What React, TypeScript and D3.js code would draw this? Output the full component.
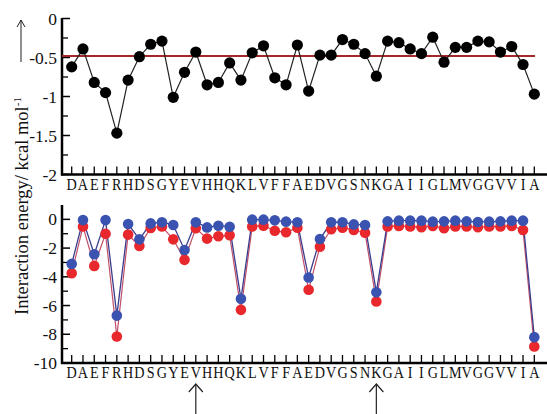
import React from "react";
import * as d3 from "d3";

const residues = "DAEFRHDSGYEVHHQKLVFFAEDVGSNKGAIIGLMVGGVVIA".split("");

const topValues = [
  -0.62, -0.39, -0.82, -0.95, -1.47, -0.79, -0.49, -0.33, -0.29, -1.01,
  -0.69, -0.43, -0.85, -0.82, -0.57, -0.79, -0.44, -0.35, -0.76, -0.85,
  -0.34, -0.93, -0.47, -0.47, -0.27, -0.33, -0.45, -0.74, -0.29, -0.31,
  -0.39, -0.45, -0.24, -0.56, -0.37, -0.37, -0.29, -0.30, -0.43, -0.36,
  -0.59, -0.97,
];

const blueValues = [
  -3.1, -0.05, -2.43, -0.05, -6.7, -0.32, -1.39, -0.28, -0.2, -0.39,
  -2.13, -0.2, -0.56, -0.44, -0.51, -5.53, -0.02, -0.02, -0.07, -0.16,
  -0.2, -4.05, -1.37, -0.2, -0.2, -0.35, -0.39, -5.07, -0.14, -0.09,
  -0.09, -0.09, -0.16, -0.14, -0.09, -0.14, -0.18, -0.16, -0.14, -0.09,
  -0.09, -8.2,
];

const redValues = [
  -3.75, -0.5, -3.24, -1.0, -8.15, -1.06, -1.85, -0.6, -0.5, -1.39,
  -2.82, -0.62, -1.34, -1.18, -1.11, -6.3, -0.5, -0.44, -0.79, -0.9,
  -0.58, -4.9, -1.9, -0.69, -0.58, -0.74, -0.93, -5.72, -0.5, -0.46,
  -0.5, -0.55, -0.46, -0.62, -0.5, -0.5, -0.55, -0.5, -0.5, -0.46,
  -0.74, -8.85,
];

const topTicks = [0, -0.5, -1, -1.5, -2];
const topMinor = [-0.25, -0.75, -1.25, -1.75];
const bottomTicks = [0, -2, -4, -6, -8, -10];
const bottomMinor = [-1, -3, -5, -7, -9];
const refLine = -0.48;
const arrowResidues = [12, 28];

const W = 547;
const H = 414;
const axisX = 62;
const axisEnd = 547;

const x = d3.scaleLinear().domain([1, 42]).range([71.7, 534.3]);
const yTop = d3.scaleLinear().domain([-2, 0]).range([174.5, 18.5]);
const yBot = d3.scaleLinear().domain([-10, 1]).range([363, 205]);

const serif = "'Liberation Serif', 'DejaVu Serif', serif";

function fmt(v: number) {
  return v === 0 ? "0" : String(v);
}

function Panel({
  y,
  ticks,
  minor,
  topY,
}: {
  y: d3.ScaleLinear<number, number>;
  ticks: number[];
  minor: number[];
  topY: number;
}) {
  const base = y.range()[0];
  return (
    <g>
      {residues.map((_, i) => (
        <line
          key={"xt" + i}
          x1={x(i + 1)}
          x2={x(i + 1)}
          y1={base}
          y2={base - 8}
          stroke="#000"
          strokeWidth={1.3}
        />
      ))}
      {ticks.map((t) => (
        <g key={"yt" + t}>
          <line x1={axisX} x2={axisX + 8} y1={y(t)} y2={y(t)} stroke="#000" strokeWidth={1.5} />
          <text
            x={axisX - 5}
            y={y(t)}
            dy="0.35em"
            textAnchor="end"
            fontFamily={serif}
            fontSize={17.5}
            fill="#111"
          >
            {fmt(t)}
          </text>
        </g>
      ))}
      {minor.map((t) => (
        <line key={"ym" + t} x1={axisX} x2={axisX + 6} y1={y(t)} y2={y(t)} stroke="#000" strokeWidth={1.3} />
      ))}
      <line x1={axisX} x2={axisX} y1={topY} y2={base + 1} stroke="#000" strokeWidth={2.5} />
      <line x1={axisX - 1} x2={axisEnd} y1={base} y2={base} stroke="#000" strokeWidth={2.5} />
      {residues.map((r, i) => (
        <text
          key={"xl" + i}
          transform={`translate(${x(i + 1)},${base + 15}) scale(0.86,1)`}
          textAnchor="middle"
          fontFamily={serif}
          fontSize={16.5}
          fill="#111"
        >
          {r}
        </text>
      ))}
    </g>
  );
}

export default function App() {
  const topLine = d3
    .line<number>()
    .x((_, i) => x(i + 1))
    .y((d) => yTop(d));
  const botLine = d3
    .line<number>()
    .x((_, i) => x(i + 1))
    .y((d) => yBot(d));

  return (
    <svg
      width={W}
      height={H}
      style={{ position: "absolute", left: 0, top: 0, background: "#fff" }}
    >
      <rect x={0} y={0} width={W} height={H} fill="#fff" />
      <text
        transform={`translate(28,315) rotate(-90)`}
        fontFamily={serif}
        fontSize={18.5}
        fill="#111"
      >
        Interaction energy/ kcal mol
        <tspan dy="-7" fontSize={11}>-1</tspan>
      </text>
      <line x1={21} x2={21} y1={62} y2={20} stroke="#222" strokeWidth={1} />
      <path d="M17,27 L21,20 L25,27" fill="none" stroke="#222" strokeWidth={1} />

      <Panel y={yTop} ticks={topTicks} minor={topMinor} topY={18} />
      <line
        x1={axisX}
        x2={535}
        y1={yTop(refLine)}
        y2={yTop(refLine)}
        stroke="#a3262a"
        strokeWidth={2}
      />
      <path d={topLine(topValues) || ""} fill="none" stroke="#222" strokeWidth={1.2} />
      {topValues.map((v, i) => (
        <circle key={"tp" + i} cx={x(i + 1)} cy={yTop(v)} r={5.6} fill="#000" />
      ))}

      <Panel y={yBot} ticks={bottomTicks} minor={bottomMinor} topY={205} />
      <path d={botLine(redValues) || ""} fill="none" stroke="#c0506a" strokeWidth={1.2} />
      <path d={botLine(blueValues) || ""} fill="none" stroke="#3c3c8c" strokeWidth={1.3} />
      {redValues.map((v, i) => (
        <circle key={"rp" + i} cx={x(i + 1)} cy={yBot(v)} r={5.3} fill="#e8282c" />
      ))}
      {blueValues.map((v, i) => (
        <circle key={"bp" + i} cx={x(i + 1)} cy={yBot(v)} r={5.3} fill="#3a52b0" />
      ))}

      {arrowResidues.map((r) => (
        <g key={"ar" + r}>
          <line x1={x(r)} x2={x(r)} y1={384} y2={414} stroke="#222" strokeWidth={1.2} />
          <path
            d={`M${x(r) - 7},${392} L${x(r)},${384} L${x(r) + 7},${392}`}
            fill="none"
            stroke="#222"
            strokeWidth={1.2}
          />
        </g>
      ))}
    </svg>
  );
}
